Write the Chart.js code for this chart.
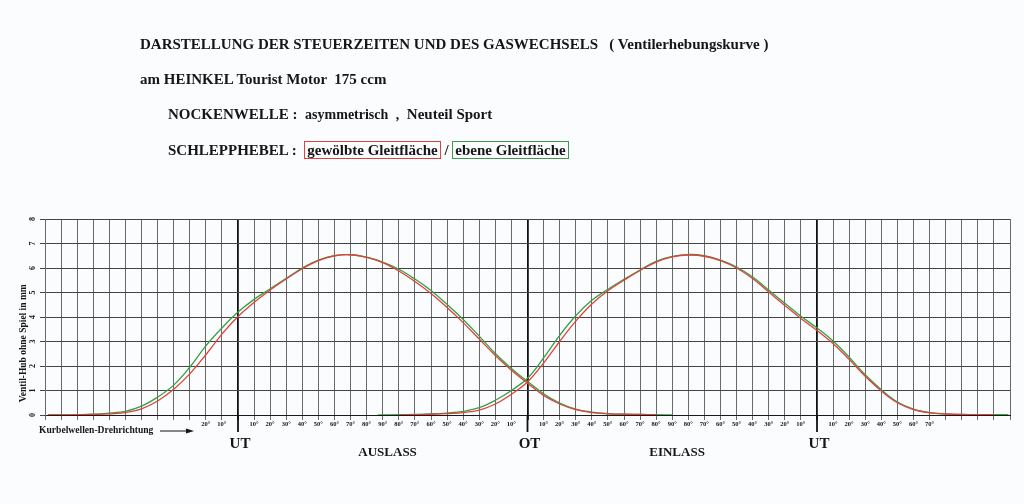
<!DOCTYPE html>
<html lang="de">
<head>
<meta charset="utf-8">
<title>Ventilerhebungskurve – HEINKEL Tourist 175 ccm</title>
<script src="https://cdn.jsdelivr.net/npm/chart.js@4.4.1/dist/chart.umd.min.js"></script>
<style>
  html, body { margin: 0; padding: 0; background: #fbfcfd; }
  #blatt {
    position: relative; width: 1024px; height: 504px; overflow: hidden;
    font-family: "Liberation Serif", "DejaVu Serif", serif; font-weight: bold; color: #161616;
  }
  #diagramm { position: absolute; left: 0; top: 0; width: 1024px; height: 504px; }
  .zeile { position: absolute; white-space: pre; font-size: 15px; line-height: 17px; }
  .klein { font-size: 14px; }
  .rahmen { padding: 0 2px; border: 1px solid; }
  .rot { border-color: #d9443c; }
  .gruen { border-color: #3c9a4a; }
</style>
</head>
<body>
<div id="blatt">
  <div id="diagramm"><canvas id="hubChart"></canvas></div>
  <div class="zeile" style="left:140px; top:36px;">DARSTELLUNG DER STEUERZEITEN UND DES GASWECHSELS   ( Ventilerhebungskurve )</div>
  <div class="zeile" style="left:140px; top:71px;">am HEINKEL Tourist Motor  175 ccm</div>
  <div class="zeile" style="left:168px; top:106px;">NOCKENWELLE :  <span class="klein">asymmetrisch</span>  <span class="klein">,</span>  Neuteil Sport</div>
  <div class="zeile" style="left:168px; top:142px;">SCHLEPPHEBEL :  <span class="rahmen rot">gewölbte Gleitfläche</span> / <span class="rahmen gruen">ebene Gleitfläche</span></div>
</div>
<script>
// ---------- Daten ----------
// Kurbelwinkel ab linkem Diagrammrand (UT = 120, OT = 300, UT = 480)
const auslassGrad = [2, 10, 20, 30, 40, 50, 60, 70, 80, 90, 100, 110, 120, 130, 140, 150, 160, 170, 180, 190,
  200, 210, 220, 230, 240, 250, 260, 270, 280, 290, 300, 310, 320, 330, 340, 350, 360, 370, 380, 390];
const auslassRot = [0, 0, 0.01, 0.02, 0.05, 0.1, 0.25, 0.57, 1.05, 1.68, 2.46, 3.3, 4.02, 4.6, 5.1, 5.55, 5.97, 6.3, 6.5, 6.54,
  6.43, 6.22, 5.88, 5.45, 4.96, 4.39, 3.77, 3.1, 2.43, 1.83, 1.3, 0.8, 0.45, 0.22, 0.1, 0.05, 0.03, 0.02, 0.01, null];
const auslassGruen = [0, 0, 0.01, 0.03, 0.08, 0.15, 0.36, 0.73, 1.22, 1.95, 2.82, 3.55, 4.2, 4.72, 5.15, 5.58, 6.0, 6.32, 6.5, 6.54,
  6.44, 6.24, 5.95, 5.55, 5.08, 4.51, 3.9, 3.22, 2.51, 1.9, 1.37, 0.87, 0.49, 0.24, 0.12, 0.06, 0.03, 0.02, 0.01, 0];

const einlassGrad = [207, 220, 230, 240, 250, 260, 270, 280, 290, 300, 310, 320, 330, 340, 350, 360, 370, 380, 390, 400,
  410, 420, 430, 440, 450, 460, 470, 480, 490, 500, 510, 520, 530, 540, 550, 560, 570, 580, 590, 599];
const einlassRot = [null, 0, 0.01, 0.03, 0.06, 0.1, 0.2, 0.45, 0.85, 1.35, 2.12, 3.0, 3.83, 4.53, 5.07, 5.5, 5.9, 6.24, 6.45, 6.53,
  6.48, 6.3, 6.0, 5.57, 5.02, 4.47, 3.94, 3.45, 2.92, 2.27, 1.58, 0.98, 0.5, 0.22, 0.09, 0.04, 0.02, 0.01, 0.01, null];
const einlassGruen = [0, 0.01, 0.02, 0.04, 0.08, 0.15, 0.3, 0.6, 1.0, 1.5, 2.33, 3.25, 4.05, 4.68, 5.13, 5.54, 5.92, 6.27, 6.47, 6.55,
  6.5, 6.32, 6.04, 5.63, 5.1, 4.56, 4.03, 3.55, 3.02, 2.36, 1.64, 1.03, 0.53, 0.24, 0.1, 0.05, 0.02, 0.01, 0.01, 0.01];

// Beschriftung der Kurbelwinkel-Teilung (alle 10°, 0 … 600)
const kurbelTicks = [
  '', '', '', '', '', '', '', '', '', '', '20°', '10°',
  '', '10°', '20°', '30°', '40°', '50°', '60°', '70°', '80°', '90°', '80°', '70°', '60°', '50°', '40°', '30°', '20°', '10°',
  '', '10°', '20°', '30°', '40°', '50°', '60°', '70°', '80°', '90°', '80°', '70°', '60°', '50°', '40°', '30°', '20°', '10°',
  '', '10°', '20°', '30°', '40°', '50°', '60°', '70°', '', '', '', '', ''
];
const totpunkte = [120, 300, 480];
const totpunktNamen = ['UT', 'OT', 'UT'];
const hubTicks = ['0', '1', '2', '3', '4', '5', '6', '7', '8'];

const ROT = '#e0413a';
const GRUEN = '#33a045';
const SCHRIFT = '"Liberation Serif", "DejaVu Serif", serif';

function punkte(grad, hub) {
  return grad.map((g, i) => ({ x: g, y: hub[i] }));
}

function kurve(label, grad, hub, farbe) {
  return {
    label: label,
    data: punkte(grad, hub),
    borderColor: farbe,
    borderWidth: 1.3,
    pointRadius: 0,
    fill: false,
    spanGaps: false,
    tension: 0.4
  };
}

// ---------- Zusatzbeschriftung (UT / OT, Auslass / Einlass, Drehrichtung, Achsentitel) ----------
const beschriftung = {
  id: 'beschriftung',
  afterDraw(chart) {
    const { ctx, chartArea, scales: { x, y } } = chart;
    ctx.save();
    ctx.fillStyle = '#161616';
    ctx.strokeStyle = '#111';

    // Totpunkt-Linien unter die Achse verlängern + Namen
    totpunkte.forEach((g, i) => {
      const px = x.getPixelForValue(g);
      ctx.lineWidth = 1.8;
      ctx.beginPath();
      ctx.moveTo(px, chartArea.bottom);
      ctx.lineTo(px, chartArea.bottom + 17);
      ctx.stroke();
      ctx.font = 'bold 15px ' + SCHRIFT;
      ctx.textAlign = 'center';
      ctx.textBaseline = 'middle';
      ctx.fillText(totpunktNamen[i], px + 2, chartArea.bottom + 29);
    });

    ctx.font = 'bold 13px ' + SCHRIFT;
    ctx.fillText('AUSLASS', x.getPixelForValue(213), chartArea.bottom + 38);
    ctx.fillText('EINLASS', x.getPixelForValue(393), chartArea.bottom + 38);

    // Drehrichtung
    const yr = chartArea.bottom + 16;
    ctx.font = 'bold 9.6px ' + SCHRIFT;
    ctx.textAlign = 'left';
    ctx.fillText('Kurbelwellen-Drehrichtung', 39, yr);
    ctx.lineWidth = 1;
    ctx.beginPath();
    ctx.moveTo(160, yr);
    ctx.lineTo(190, yr);
    ctx.stroke();
    ctx.beginPath();
    ctx.moveTo(194, yr);
    ctx.lineTo(186, yr - 2.5);
    ctx.lineTo(186, yr + 2.5);
    ctx.closePath();
    ctx.fill();

    // Achsentitel
    ctx.translate(24, y.getPixelForValue(2.93));
    ctx.rotate(-Math.PI / 2);
    ctx.font = 'bold 9.5px ' + SCHRIFT;
    ctx.textAlign = 'center';
    ctx.fillText('Ventil-Hub ohne Spiel in mm', 0, 0);
    ctx.restore();
  }
};

// ---------- Diagramm ----------
const hubChart = new Chart(document.getElementById('hubChart'), {
  type: 'line',
  data: {
    datasets: [
      kurve('Auslass – gewölbte Gleitfläche', auslassGrad, auslassRot, ROT),
      kurve('Einlass – gewölbte Gleitfläche', einlassGrad, einlassRot, ROT),
      kurve('Auslass – ebene Gleitfläche', auslassGrad, auslassGruen, GRUEN),
      kurve('Einlass – ebene Gleitfläche', einlassGrad, einlassGruen, GRUEN)
    ]
  },
  options: {
    responsive: true,
    maintainAspectRatio: false,
    animation: false,
    layout: { padding: { left: 0, right: 14, top: 219, bottom: 0 } },
    plugins: { legend: { display: false }, tooltip: { enabled: false } },
    scales: {
      x: {
        type: 'linear',
        min: 0,
        max: 600,
        afterFit: s => { s.height = 89; },
        ticks: {
          stepSize: 10,
          autoSkip: false,
          minRotation: 0,
          maxRotation: 0,
          padding: 0,
          color: '#161616',
          font: { family: SCHRIFT, size: 6.5, weight: 'bold' },
          callback: v => kurbelTicks[Math.round(v / 10)] || ''
        },
        grid: {
          color: c => (c.tick && totpunkte.includes(c.tick.value)) ? '#111' : '#6a6a6a',
          lineWidth: c => (c.tick && totpunkte.includes(c.tick.value)) ? 1.8 : 1,
          tickLength: 5
        },
        border: { color: '#1a1a1a', width: 1 }
      },
      y: {
        min: 0,
        max: 8,
        afterFit: s => { s.width = 45; },
        ticks: {
          stepSize: 1,
          minRotation: 90,
          maxRotation: 90,
          crossAlign: 'center',
          padding: 5,
          color: '#161616',
          font: { family: SCHRIFT, size: 8, weight: 'bold' },
          callback: v => hubTicks[v] ?? ''
        },
        grid: { color: '#454545', lineWidth: 1, tickLength: 5 },
        border: { color: '#6a6a6a', width: 1 }
      }
    }
  },
  plugins: [beschriftung]
});
</script>
</body>
</html>
